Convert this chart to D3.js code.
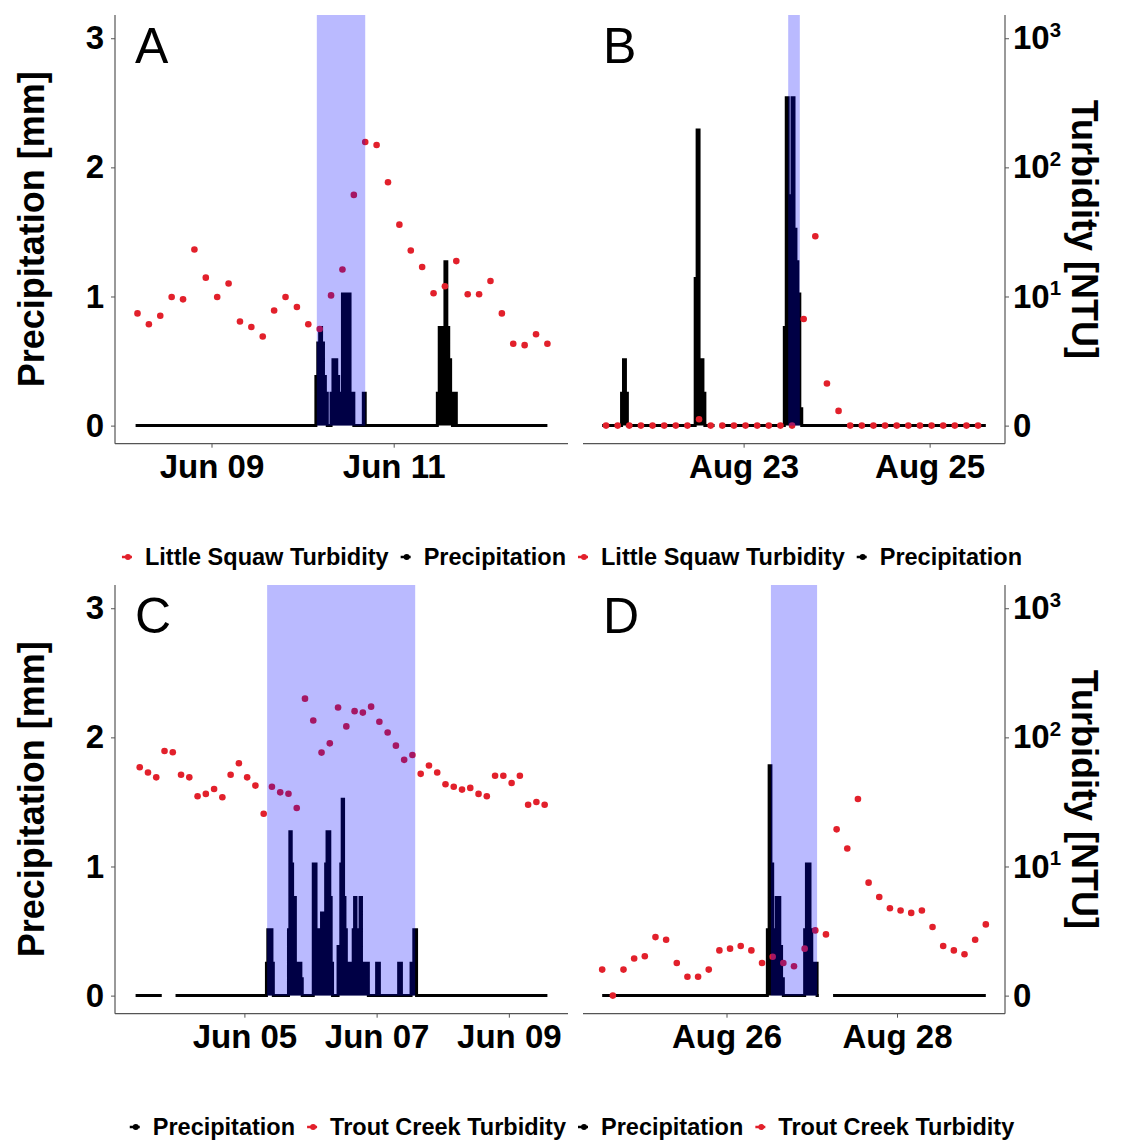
<!DOCTYPE html>
<html>
<head>
<meta charset="utf-8">
<script src="https://cdn.jsdelivr.net/npm/d3@7"></script>
<style>
  body { margin: 0; background: #fff; }
  text { font-family: "Liberation Sans", Arial, sans-serif; }
</style>
</head>
<body>
<div id="chart"></div>
<script>
// ---------------- data ----------------
// precipitation: 30-min series, zero except the listed runs; gaps = missing data
// turbidity: one reading every 3 hours from the start time (NTU)

// A - Little Squaw, June
var aPrecipSpan = ['2017-06-08 04:00', '2017-06-12 16:30'];
var aRainRuns = [
  ['2017-06-10 03:30', [0.38, 0.64, 0.76, 0.64, 0.38, 0.25, 0, 0, 0.25, 0.51, 0.51, 0.38, 0.25, 0.25,
                        1.02, 1.02, 1.02, 1.02, 0.25, 0.25, 0, 0, 0, 0, 0, 0.25]],
  ['2017-06-11 11:30', [0.25, 0.76, 0.76, 0.51, 1.27, 0.76, 0.51, 0.25, 0, 0.25]]
];
var aGaps = [];
var aTurbStart = '2017-06-08 04:30';
var aTurbidity = [7.4, 6.1, 7.1, 9.9, 9.5, 23.1, 14.0, 9.9, 12.6, 6.4, 5.8, 4.9, 7.8, 9.9, 8.3, 6.1, 5.6,
                  10.2, 16.2, 61.2, 157, 149, 76.7, 36.0, 22.7, 16.9, 10.6, 12.0, 18.8, 10.4, 10.4, 13.2,
                  7.4, 4.3, 4.2, 5.1, 4.3];
var aStorm = ['2017-06-10 03:45', '2017-06-10 16:30'];
var aTicks = ['2017-06-09 00:00', '2017-06-11 00:00'];

// B - Little Squaw, August
var bPrecipSpan = ['2017-08-21 11:30', '2017-08-25 14:30'];
var bRainRuns = [
  ['2017-08-21 16:30', [0.25, 0.51, 0.25]],
  ['2017-08-22 11:30', [1.14, 2.29, 0.51, 0.51, 0.25]],
  ['2017-08-23 10:30', [0.76, 2.54, 1.78, 1.40, 2.54, 1.52, 1.27, 1.02, 0.13]]
];
var bGaps = [['2017-08-22 16:30', '2017-08-22 18:00']];
var bTurbStart = '2017-08-21 12:30';
var bTurbidity = [0, 0, 0, 0, 0, 0, 0, 0, 1.12, 0, 0, 0, 0, 0, 0, 0, 0, 6.7, 29.3, 2.12, 1.30,
                  0, 0, 0, 0, 0, 0, 0, 0, 0, 0, 0, 0];
var bStorm = ['2017-08-23 11:30', '2017-08-23 14:30'];
var bTicks = ['2017-08-23 00:00', '2017-08-25 00:00'];

// C - Trout Creek, June
var cPrecipSpan = ['2017-06-03 08:30', '2017-06-09 14:00'];
var cRainRuns = [
  ['2017-06-05 08:00', [0.25, 0.51, 0.51, 0.51, 0.25]],
  ['2017-06-05 16:00', [0.51, 1.27, 1.02, 0.76, 0.76, 0.25, 0.25, 0.25, 0.25, 0.13]],
  ['2017-06-06 01:00', [1.02, 1.02, 0.25, 0.51, 0.51, 0.51, 0.64, 0.64, 0.64, 1.02, 1.27, 1.27, 0.76, 0.25]],
  ['2017-06-06 10:00', [0.38, 0.38, 1.02, 1.52, 0.76, 0.51, 0.25, 0.25, 0.25, 0.25, 0.25, 0.51, 0.76,
                        0.38, 0.25, 0.51, 0.76, 0.25, 0.25, 0.25, 0.25, 0.25]],
  ['2017-06-07 00:00', [0.25, 0.25]],
  ['2017-06-07 08:00', [0.25, 0.25]],
  ['2017-06-07 12:30', [0.25, 0.25, 0.51, 0.51]]
];
var cGaps = [['2017-06-03 18:00', '2017-06-03 23:00']];
var cTurbStart = '2017-06-03 10:00';
var cTurbidity = [58.7, 53.5, 49.0, 78.5, 76.7, 51.3, 49.0, 35.0, 36.5, 39.8, 34.4, 51.3, 63.1, 49.0,
                  42.3, 25.6, 41.5, 37.5, 36.6, 28.4, 199.5, 135.2, 76.2, 89.9, 170.2, 121.6, 159.6,
                  155.6, 173.0, 132.1, 109.1, 86.3, 67.0, 73.1, 52.2, 60.5, 53.5, 43.4, 41.5, 39.4,
                  40.6, 36.5, 35.0, 50.5, 50.5, 44.3, 50.5, 30.1, 31.6, 30.1];
var cStorm = ['2017-06-05 08:15', '2017-06-07 14:00'];
var cTicks = ['2017-06-05 00:00', '2017-06-07 00:00', '2017-06-09 00:00'];

// D - Trout Creek, August
var dPrecipSpan = ['2017-08-24 13:00', '2017-08-29 01:00'];
var dRainRuns = [
  ['2017-08-26 11:30', [0.51, 1.78, 1.02, 0.51, 0.38, 0.76, 0.76, 0.38, 0.13]],
  ['2017-08-26 22:00', [0.51, 1.02, 1.02, 0.51, 0.25, 0.25, 0.25]]
];
var dGaps = [['2017-08-27 02:00', '2017-08-27 06:00']];
var dTurbStart = '2017-08-24 13:00';
var dTurbidity = [1.59, 0, 1.59, 1.94, 2.02, 2.84, 2.71, 1.79, 1.40, 1.40, 1.59, 2.24, 2.31, 2.42, 2.24,
                  1.79, 2.0, 1.79, 1.69, 2.31, 3.2, 2.98, 19.4, 13.8, 33.3, 7.5, 5.8, 4.75, 4.56, 4.37,
                  4.56, 3.4, 2.42, 2.24, 2.09, 2.71, 3.56];
var dStorm = ['2017-08-26 12:30', '2017-08-27 01:30'];
var dTicks = ['2017-08-26 00:00', '2017-08-28 00:00'];

var precipTicks = [0, 1, 2, 3];
var turbTicks = [1, 10, 100, 1000];
var topLegend = [['Little Squaw Turbidity', 'turb'], ['Precipitation', 'precip'],
                 ['Little Squaw Turbidity', 'turb'], ['Precipitation', 'precip']];
var bottomLegend = [['Precipitation', 'precip'], ['Trout Creek Turbidity', 'turb'],
                    ['Precipitation', 'precip'], ['Trout Creek Turbidity', 'turb']];

// ---------------- drawing ----------------
var parse = d3.utcParse('%Y-%m-%d %H:%M');
var fmtDay = d3.utcFormat('%b %d');
var RED = '#e2202b', AXIS = '#555';

var svg = d3.select('#chart').append('svg')
    .attr('width', 1136).attr('height', 1142);
svg.append('rect').attr('width', 1136).attr('height', 1142).attr('fill', '#fff');

var cols = [{x0: 115, x1: 568, side: 'left'}, {x0: 583, x1: 1005, side: 'right'}];
var rows = [{top: 15, bottom: 443.7}, {top: 585, bottom: 1013.7}];

var panels = [
    {label: 'A', col: 0, row: 0, span: aPrecipSpan, runs: aRainRuns, gaps: aGaps, turbStart: aTurbStart, turb: aTurbidity, storm: aStorm, ticks: aTicks},
    {label: 'B', col: 1, row: 0, span: bPrecipSpan, runs: bRainRuns, gaps: bGaps, turbStart: bTurbStart, turb: bTurbidity, storm: bStorm, ticks: bTicks},
    {label: 'C', col: 0, row: 1, span: cPrecipSpan, runs: cRainRuns, gaps: cGaps, turbStart: cTurbStart, turb: cTurbidity, storm: cStorm, ticks: cTicks},
    {label: 'D', col: 1, row: 1, span: dPrecipSpan, runs: dRainRuns, gaps: dGaps, turbStart: dTurbStart, turb: dTurbidity, storm: dStorm, ticks: dTicks}
];

function buildRain(span, runs, gaps) {
    var t0 = parse(span[0]), t1 = parse(span[1]);
    var pts = d3.utcMinute.every(30).range(t0, d3.utcMinute.offset(t1, 1))
        .map(function(t) { return {t: t, v: 0}; });
    var index = new Map(pts.map(function(p, i) { return [+p.t, i]; }));
    runs.forEach(function(run) {
        var st = parse(run[0]);
        run[1].forEach(function(v, k) {
            var i = index.get(+d3.utcMinute.offset(st, 30 * k));
            if (i !== undefined) pts[i].v = v;
        });
    });
    gaps.forEach(function(g) {
        var a = parse(g[0]), b = parse(g[1]);
        pts.forEach(function(p) { if (p.t > a && p.t < b) p.v = null; });
    });
    return pts;
}

function styleAxis(g) {
    g.attr('font-size', 33).attr('font-weight', 'bold')
        .attr('font-family', '"Liberation Sans", Arial, sans-serif');
    g.selectAll('.tick line').attr('stroke', AXIS);
    g.selectAll('.tick text').attr('fill', '#000');
    g.select('.domain').remove();
}

panels.forEach(function(p) {
    var c = cols[p.col], r = rows[p.row];
    var rain = buildRain(p.span, p.runs, p.gaps);
    var t0 = parse(p.turbStart);
    var turb = p.turb.map(function(v, i) { return {t: d3.utcHour.offset(t0, 3 * i), v: v}; });

    var ext = d3.extent(rain.map(function(d) { return d.t; }).concat(turb.map(function(d) { return d.t; })));
    var pad = (ext[1] - ext[0]) * 0.05;
    var x = d3.scaleUtc().domain([new Date(+ext[0] - pad), new Date(+ext[1] + pad)]).range([c.x0, c.x1]);
    var y = d3.scaleLinear().domain([-0.14, 3.18]).range([r.bottom, r.top]);
    var yT = d3.scaleLog().domain([1, 1000]).range([y(0), y(3)]);

    var g = svg.append('g');

    // precipitation: dense hourly record drawn as a solid stepped band plus its outline
    var defined = function(d) { return d.v !== null; };
    var area = d3.area().defined(defined)
        .x(function(d) { return x(d.t); })
        .y0(y(0))
        .y1(function(d) { return y(d.v); })
        .curve(d3.curveStepAfter);
    var line = d3.line().defined(defined)
        .x(function(d) { return x(d.t); })
        .y(function(d) { return y(d.v); })
        .curve(d3.curveStepAfter);
    g.append('path').datum(rain).attr('d', area).attr('fill', '#000');
    g.append('path').datum(rain)
        .attr('d', line)
        .attr('fill', 'none')
        .attr('stroke', '#000')
        .attr('stroke-width', 3);

    // turbidity points
    g.selectAll('.turb').data(turb).enter().append('circle')
        .attr('cx', function(d) { return x(d.t); })
        .attr('cy', function(d) { return yT(Math.max(1, d.v)); })
        .attr('r', 3.3)
        .attr('fill', RED);

    // storm window shading (drawn on top, translucent)
    g.append('rect')
        .attr('x', x(parse(p.storm[0])))
        .attr('width', x(parse(p.storm[1])) - x(parse(p.storm[0])))
        .attr('y', r.top)
        .attr('height', y(0) - r.top)
        .attr('fill', '#0000ff')
        .attr('fill-opacity', 0.27);

    // x axis
    g.append('g').attr('transform', 'translate(0,' + r.bottom + ')')
        .call(d3.axisBottom(x).tickValues(p.ticks.map(parse)).tickFormat(fmtDay)
            .tickSize(4).tickPadding(7).tickSizeOuter(0))
        .call(styleAxis);
    g.append('line').attr('x1', c.x0).attr('x2', c.x1).attr('y1', r.bottom).attr('y2', r.bottom)
        .attr('stroke', AXIS).attr('stroke-width', 1.2);

    if (c.side === 'left') {
        g.append('g').attr('transform', 'translate(' + c.x0 + ',0)')
            .call(d3.axisLeft(y).tickValues(precipTicks).tickFormat(d3.format('d'))
                .tickSize(4).tickPadding(7))
            .call(styleAxis);
        g.append('line').attr('x1', c.x0).attr('x2', c.x0).attr('y1', r.top).attr('y2', r.bottom)
            .attr('stroke', AXIS).attr('stroke-width', 1.2);
        g.append('text')
            .attr('transform', 'translate(44,' + ((r.top + r.bottom) / 2) + ') rotate(-90)')
            .attr('text-anchor', 'middle')
            .attr('font-size', 36).attr('font-weight', 'bold')
            .text('Precipitation [mm]');
    } else {
        var ra = g.append('g').attr('transform', 'translate(' + c.x1 + ',0)')
            .call(d3.axisRight(yT).tickValues(turbTicks).tickSize(4).tickPadding(4))
            .call(styleAxis);
        ra.selectAll('.tick text').each(function(d) {
            var t = d3.select(this).text(null);
            if (d === 1) { t.text('0'); return; }
            t.append('tspan').text('10');
            t.append('tspan').attr('dy', '-0.62em').attr('font-size', '0.62em')
                .text(Math.round(Math.log10(d)));
        });
        g.append('line').attr('x1', c.x1).attr('x2', c.x1).attr('y1', r.top).attr('y2', r.bottom)
            .attr('stroke', AXIS).attr('stroke-width', 1.2);
        g.append('text')
            .attr('transform', 'translate(1072,' + ((r.top + r.bottom) / 2) + ') rotate(90)')
            .attr('text-anchor', 'middle')
            .attr('font-size', 36).attr('font-weight', 'bold')
            .text('Turbidity [NTU]');
    }

    // panel letter
    g.append('text')
        .attr('x', c.x0 + 20)
        .attr('y', r.top + 48)
        .attr('font-size', 50)
        .text(p.label);
});

// legends
function drawLegend(items, cy) {
    var lg = svg.append('g').attr('font-size', 23.5).attr('font-weight', 'bold');
    var pos = 0, placed = [];
    items.forEach(function(it) {
        var t = lg.append('text').attr('y', cy).attr('dy', '0.35em').text(it[0]);
        var w = t.node().getComputedTextLength();
        placed.push({kind: it[1], text: t, kx: pos + 7, tx: pos + 25});
        pos += 25 + w + 10;
    });
    var off = 571 - (pos - 10) / 2;
    placed.forEach(function(d) {
        var col = d.kind === 'turb' ? RED : '#000';
        d.text.attr('x', off + d.tx);
        lg.append('line').attr('x1', off + d.kx - 5).attr('x2', off + d.kx + 5)
            .attr('y1', cy).attr('y2', cy).attr('stroke', col).attr('stroke-width', 2.5);
        lg.append('circle').attr('cx', off + d.kx + 1).attr('cy', cy).attr('r', 3).attr('fill', col);
    });
}
drawLegend(topLegend, 557);
drawLegend(bottomLegend, 1127);
</script>
</body>
</html>
